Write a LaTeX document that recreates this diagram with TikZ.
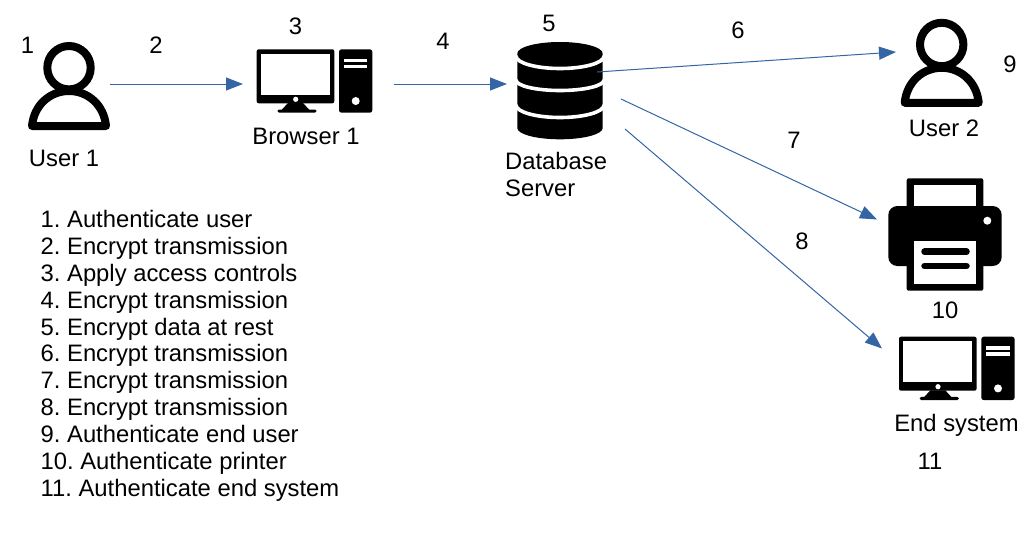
\documentclass[tikz,border=0pt]{standalone}
\usepackage{fontspec}
\setmainfont{Liberation Sans}
\usetikzlibrary{arrows.meta}
\definecolor{linkblue}{HTML}{3465A4}
\tikzset{
  lbl/.style={inner sep=0pt,font=\fontsize{23.8}{27}\selectfont\frenchspacing,text=black,align=left},
  link/.style={draw=linkblue,line width=1pt,-{Triangle[length=17pt,width=13pt]}},
  pics/usericon/.style={code={
    \draw[black,line width=8pt] (69,67.7) circle[radius=21.7];
    \draw[black,line width=8pt,line join=round] (32,126) .. controls (34,105) and (50,91) .. (69,91) .. controls (88,91) and (104,105) .. (106,126) -- cycle;
  }},
  pics/pcicon/.style={code={
    \fill[black,rounded corners=2pt] (256.7,49.3) rectangle (334.3,103.3);
    \fill[white] (261,53.7) rectangle (330,95);
    \fill[white] (295.7,99.3) circle[radius=2.6];
    \fill[black] (288,103) -- (303,103) -- (309,109.5) -- (315,109.5) -- (316.7,111) -- (315,112.7) -- (279,112.7) -- (277.3,111) -- (279,109.5) -- (282,109.5) -- cycle;
    \fill[black,rounded corners=2.5pt] (339,49.3) rectangle (372.3,112.7);
    \draw[white,line width=3.2pt] (344,60.5) -- (367.3,60.5) (344,66.5) -- (367.3,66.5);
    \fill[white] (355.7,101) circle[radius=4];
  }},
  pics/dbicon/.style={code={
    \fill[black] (517.3,53.5) arc[start angle=180,end angle=360,x radius=42.7,y radius=11.5] -- (602.7,128) arc[start angle=0,end angle=180,x radius=42.7,y radius=11.3] -- cycle;
    \draw[white,line width=3.6pt] (516,56) arc[start angle=180,end angle=0,x radius=44,y radius=12.5];
    \draw[white,line width=3.6pt] (516,80) arc[start angle=180,end angle=0,x radius=44,y radius=10.5];
    \draw[white,line width=3.6pt] (516,105) arc[start angle=180,end angle=0,x radius=44,y radius=12.5];
  }},
  pics/printericon/.style={code={
    \fill[black,rounded corners=2pt] (906.7,178.3) rectangle (983.3,215);
    \fill[white] (914,185) rectangle (976,210);
    \fill[black,rounded corners=9pt] (888.3,206) rectangle (1001.7,266);
    \fill[black,rounded corners=2pt] (906.7,235) rectangle (983.3,290.7);
    \fill[white] (914,241) rectangle (976,284);
    \draw[black,line width=6.5pt,line cap=round] (924.5,251.7) -- (966.5,251.7) (924.5,266) -- (966.5,266);
    \fill[white] (987.3,220.7) circle[radius=4];
  }}
}
\begin{document}
\begin{tikzpicture}[x=1pt,y=-1pt]
\useasboundingbox (0,0) rectangle (1032,533);
\pic {usericon};
\pic[shift={(872.7,-23.2)}] {usericon};
\pic {pcicon};
\pic[shift={(642.3,287.4)}] {pcicon};
\pic {dbicon};
\pic {printericon};
\coordinate (user1out) at (110,84);
\coordinate (browserin) at (243,84);
\coordinate (browserout) at (394,84);
\coordinate (dbin) at (507,84);
\coordinate (dbout6) at (597,72);
\coordinate (user2in) at (896,52);
\coordinate (dbout7) at (621,99);
\coordinate (printerin) at (877,219.5);
\coordinate (dbout8) at (625,129);
\coordinate (endin) at (882,348.5);
\draw[link] (user1out) -- (browserin);
\draw[link] (browserout) -- (dbin);
\draw[link] (dbout6) -- (user2in);
\draw[link] (dbout7) -- (printerin);
\draw[link] (dbout8) -- (endin);
\node[lbl] (n1) at (27.5,45) {1};
\node[lbl] (n2) at (156,45) {2};
\node[lbl] (n3) at (295.5,26) {3};
\node[lbl] (n4) at (443,41) {4};
\node[lbl] (n5) at (549,23) {5};
\node[lbl] (n6) at (738,30) {6};
\node[lbl] (n7) at (794,140) {7};
\node[lbl] (n8) at (802,241) {8};
\node[lbl] (n9) at (1010,64) {9};
\node[lbl] (n10) at (945,310) {10};
\node[lbl] (n11) at (930,461) {11};
\node[lbl] (user1) at (64,158) {User 1};
\node[lbl] (browser1) at (306,136) {Browser 1};
\node[lbl,anchor=north west] (dbserver) at (505,152) {Database\\Server};
\node[lbl] (user2) at (944,128) {User 2};
\node[lbl] (endsys) at (956.5,425) {End system};
\node[lbl,anchor=north west,font=\fontsize{23.8}{26.9}\selectfont\frenchspacing] (steps) at (40.5,210) {1. Authenticate user\\2. Encrypt transmission\\3. Apply access controls\\4. Encrypt transmission\\5. Encrypt data at rest\\6. Encrypt transmission\\7. Encrypt transmission\\8. Encrypt transmission\\9. Authenticate end user\\10. Authenticate printer\\11. Authenticate end system};
\end{tikzpicture}
\end{document}
